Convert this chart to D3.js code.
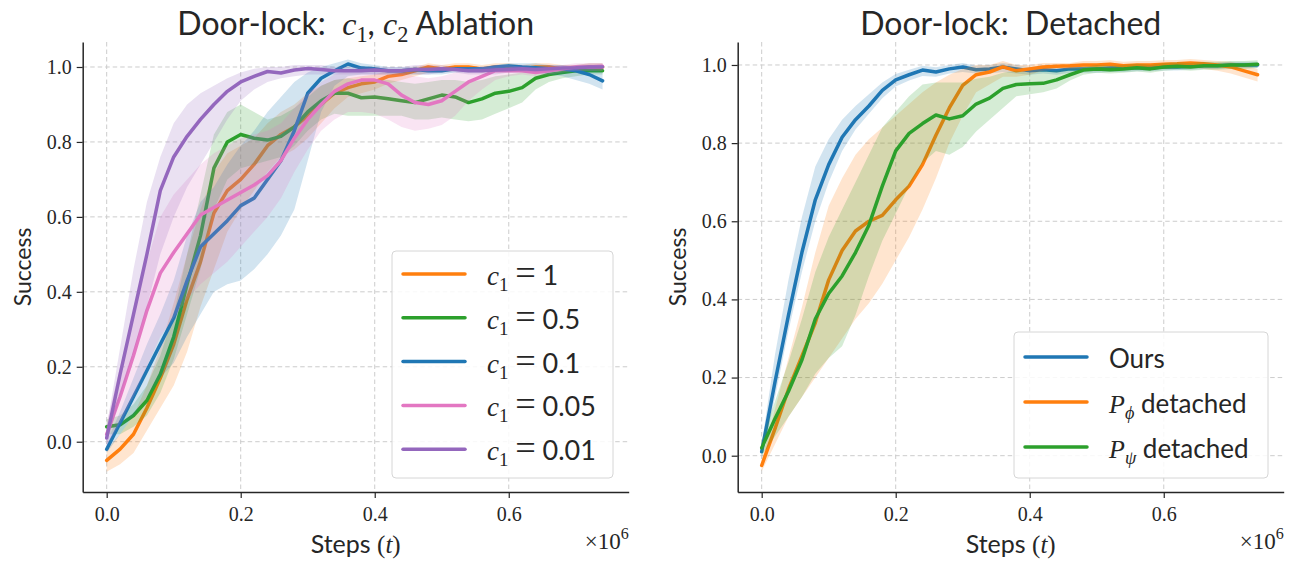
<!DOCTYPE html>
<html><head><meta charset="utf-8">
<script src="https://cdn.jsdelivr.net/npm/d3@7"></script>
<style>body{margin:0;background:#fff}svg{display:block}text{white-space:pre}</style>
</head><body><svg id="chart" width="1292" height="563"></svg>
<script>
// ---------- data ----------
const steps = [0,0.02,0.04,0.06,0.08,0.10,0.12,0.14,0.16,0.18,0.20,0.22,0.24,0.26,0.28,0.30,0.32,0.34,0.36,0.38,0.40,0.42,0.44,0.46,0.48,0.50,0.52,0.54,0.56,0.58,0.60,0.62,0.64,0.66,0.68,0.70,0.72,0.74];
const xTicks = [0.0,0.2,0.4,0.6];
const yTicksLeft = [0.0,0.2,0.4,0.6,0.8,1.0];
const yTicksRight = [0.0,0.2,0.4,0.6,0.8,1.0];

// Left panel: c1 ablation
const c1_1_mean = [-0.05,-0.02,0.02,0.09,0.17,0.26,0.38,0.48,0.61,0.67,0.70,0.74,0.79,0.82,0.84,0.87,0.90,0.93,0.945,0.955,0.96,0.975,0.98,0.99,1.0,0.995,1.0,1.0,0.995,1.0,1.0,0.995,1.0,1.0,0.995,0.995,1.0,1.0];
const c1_1_lo = [-0.08,-0.06,-0.03,0.03,0.09,0.15,0.24,0.36,0.46,0.56,0.62,0.67,0.72,0.76,0.78,0.81,0.85,0.89,0.92,0.93,0.94,0.955,0.965,0.975,0.985,0.985,0.99,0.99,0.985,0.99,0.99,0.985,0.99,0.99,0.985,0.985,0.99,0.99];
const c1_1_hi = [-0.02,0.02,0.07,0.15,0.25,0.37,0.50,0.62,0.72,0.77,0.79,0.81,0.85,0.88,0.90,0.93,0.95,0.965,0.97,0.975,0.98,0.99,0.995,1.0,1.01,1.005,1.01,1.01,1.005,1.01,1.01,1.005,1.01,1.01,1.005,1.005,1.01,1.01];

const c1_05_mean = [0.04,0.045,0.07,0.11,0.18,0.28,0.42,0.55,0.73,0.80,0.82,0.81,0.805,0.815,0.84,0.88,0.91,0.93,0.93,0.918,0.92,0.915,0.91,0.905,0.915,0.925,0.92,0.905,0.915,0.93,0.935,0.945,0.97,0.98,0.985,0.99,0.99,0.99];
const c1_05_lo = [0.02,0.02,0.04,0.07,0.13,0.22,0.34,0.46,0.62,0.70,0.73,0.74,0.75,0.76,0.79,0.83,0.86,0.875,0.87,0.87,0.87,0.87,0.87,0.86,0.86,0.865,0.86,0.855,0.86,0.875,0.89,0.905,0.94,0.96,0.97,0.975,0.98,0.98];
const c1_05_hi = [0.06,0.07,0.10,0.15,0.23,0.34,0.50,0.66,0.82,0.88,0.90,0.88,0.86,0.87,0.89,0.92,0.95,0.965,0.97,0.965,0.965,0.965,0.96,0.955,0.96,0.965,0.965,0.96,0.965,0.975,0.98,0.985,0.99,0.995,1.0,1.0,1.0,1.0];

const c1_01_mean = [-0.02,0.05,0.12,0.19,0.26,0.33,0.43,0.52,0.555,0.59,0.63,0.65,0.70,0.75,0.83,0.93,0.97,0.99,1.008,0.997,0.995,0.99,0.99,0.993,0.99,0.99,0.995,0.995,0.995,1.0,1.003,1.0,0.998,0.995,0.995,0.99,0.98,0.963];
const c1_01_lo = [-0.03,0.02,0.07,0.12,0.17,0.21,0.28,0.34,0.40,0.42,0.43,0.46,0.50,0.55,0.62,0.75,0.88,0.95,0.975,0.98,0.98,0.98,0.98,0.98,0.98,0.98,0.985,0.985,0.985,0.99,0.99,0.99,0.985,0.98,0.975,0.965,0.955,0.94];
const c1_01_hi = [0.0,0.08,0.17,0.26,0.34,0.43,0.55,0.64,0.68,0.74,0.79,0.83,0.88,0.92,0.96,0.985,1.0,1.01,1.02,1.01,1.005,1.0,1.0,1.0,1.0,1.0,1.0,1.0,1.0,1.005,1.01,1.01,1.01,1.005,1.005,1.0,1.0,0.985];

const c1_005_mean = [0.02,0.12,0.23,0.35,0.45,0.505,0.555,0.605,0.625,0.645,0.665,0.685,0.71,0.75,0.81,0.86,0.90,0.935,0.955,0.965,0.965,0.955,0.925,0.905,0.9,0.91,0.935,0.96,0.975,0.99,0.99,0.99,0.985,0.99,0.995,1.0,1.0,1.002];
const c1_005_lo = [-0.01,0.05,0.12,0.20,0.28,0.33,0.38,0.42,0.45,0.48,0.52,0.56,0.60,0.65,0.72,0.78,0.83,0.86,0.88,0.88,0.875,0.86,0.84,0.83,0.835,0.845,0.87,0.91,0.94,0.965,0.975,0.98,0.975,0.98,0.985,0.99,0.99,0.99];
const c1_005_hi = [0.05,0.20,0.34,0.48,0.60,0.66,0.70,0.74,0.77,0.79,0.81,0.82,0.83,0.85,0.89,0.93,0.96,0.98,0.99,0.995,0.995,0.99,0.985,0.975,0.97,0.975,0.985,0.995,1.0,1.005,1.005,1.0,0.995,1.0,1.005,1.01,1.01,1.01];

const c1_001_mean = [0.01,0.18,0.34,0.50,0.67,0.76,0.815,0.86,0.90,0.935,0.96,0.975,0.988,0.984,0.992,0.996,0.993,0.99,0.99,0.99,0.992,0.99,0.99,0.993,0.993,0.995,0.993,0.99,0.99,0.992,0.993,0.995,0.993,0.995,0.997,0.998,1.0,1.0];
const c1_001_lo = [-0.01,0.12,0.24,0.36,0.50,0.60,0.68,0.74,0.80,0.86,0.91,0.94,0.96,0.97,0.975,0.98,0.98,0.98,0.98,0.98,0.98,0.98,0.98,0.98,0.98,0.985,0.985,0.98,0.98,0.98,0.985,0.985,0.985,0.985,0.99,0.99,0.99,0.99];
const c1_001_hi = [0.04,0.25,0.46,0.64,0.76,0.85,0.90,0.93,0.95,0.97,0.985,0.995,1.0,1.0,1.005,1.005,1.005,1.0,1.0,1.0,1.0,1.0,1.0,1.005,1.005,1.005,1.0,1.0,1.0,1.0,1.0,1.005,1.0,1.005,1.005,1.005,1.01,1.01];

// Right panel: detached
const ours_mean = [0.01,0.19,0.36,0.52,0.655,0.745,0.815,0.86,0.895,0.935,0.962,0.975,0.987,0.982,0.99,0.995,0.988,0.99,0.995,0.99,0.985,0.988,0.985,0.99,0.99,0.99,0.992,0.992,0.993,0.993,0.995,0.995,0.997,0.998,0.998,1.0,1.0,1.0];
const ours_lo = [-0.01,0.15,0.32,0.47,0.60,0.70,0.78,0.835,0.875,0.915,0.945,0.96,0.972,0.97,0.978,0.982,0.978,0.978,0.982,0.978,0.975,0.978,0.975,0.98,0.98,0.98,0.982,0.982,0.984,0.984,0.986,0.986,0.988,0.99,0.99,0.992,0.992,0.992];
const ours_hi = [0.03,0.26,0.45,0.61,0.74,0.81,0.86,0.895,0.925,0.955,0.977,0.988,0.998,0.994,1.0,1.005,0.998,1.0,1.005,1.0,0.995,0.998,0.995,1.0,1.0,1.0,1.002,1.002,1.002,1.002,1.004,1.004,1.006,1.006,1.006,1.008,1.008,1.008];

const pphi_mean = [-0.025,0.07,0.17,0.255,0.34,0.45,0.525,0.575,0.60,0.615,0.655,0.69,0.745,0.82,0.89,0.948,0.975,0.982,0.995,0.985,0.99,0.995,0.997,0.998,1.0,1.0,1.002,0.998,1.0,1.0,1.002,1.003,1.005,1.003,1.0,0.995,0.985,0.975];
const pphi_lo = [-0.04,0.03,0.10,0.15,0.20,0.25,0.30,0.35,0.39,0.44,0.50,0.56,0.63,0.71,0.80,0.87,0.93,0.95,0.97,0.97,0.975,0.985,0.99,0.99,0.99,0.99,0.992,0.99,0.99,0.99,0.99,0.992,0.995,0.99,0.985,0.978,0.968,0.958];
const pphi_hi = [-0.01,0.12,0.25,0.38,0.52,0.64,0.71,0.77,0.81,0.84,0.87,0.90,0.93,0.955,0.975,0.99,1.0,1.0,1.01,1.0,1.0,1.005,1.005,1.005,1.01,1.01,1.012,1.008,1.01,1.01,1.012,1.013,1.015,1.013,1.01,1.008,1.0,0.99];

const ppsi_mean = [0.02,0.095,0.165,0.245,0.35,0.415,0.46,0.52,0.59,0.69,0.78,0.825,0.85,0.872,0.862,0.87,0.90,0.915,0.94,0.95,0.952,0.953,0.962,0.975,0.987,0.99,0.988,0.99,0.993,0.99,0.995,0.997,0.995,0.998,0.998,1.0,1.0,1.002];
const ppsi_lo = [0.0,0.05,0.10,0.15,0.21,0.25,0.28,0.36,0.46,0.55,0.62,0.69,0.75,0.78,0.77,0.79,0.83,0.86,0.89,0.92,0.925,0.93,0.94,0.96,0.975,0.98,0.978,0.98,0.983,0.98,0.985,0.988,0.985,0.988,0.988,0.99,0.99,0.992];
const ppsi_hi = [0.04,0.14,0.24,0.35,0.47,0.56,0.63,0.70,0.77,0.84,0.88,0.92,0.95,0.955,0.955,0.955,0.965,0.97,0.98,0.985,0.98,0.985,0.985,0.99,0.995,1.0,0.998,1.0,1.003,1.0,1.005,1.007,1.005,1.008,1.008,1.01,1.01,1.012];

// ---------- styling ----------
const SANS = "Lato, 'Open Sans', sans-serif";
const SERIF = "'Liberation Serif', 'DejaVu Serif', serif";
const INK = "#262626";
const C = {blue:"#1f77b4", orange:"#ff7f0e", green:"#2ca02c", pink:"#e377c2", purple:"#9467bd"};

const svg = d3.select("#chart");

function rich(textSel, parts, size) {
  let shift = 0;
  parts.forEach(p => {
    const fs = (p.sub || p.sup) ? size * 0.7 : (p.scale ? size * p.scale : size);
    const target = p.sub ? size * 0.22 : (p.sup ? -size * 0.42 : 0);
    const ts = textSel.append("tspan").text(p.t)
      .style("font-size", fs + "px")
      .style("font-family", p.serif ? SERIF : SANS)
      .style("font-style", p.it ? "italic" : "normal");
    if (target !== shift) { ts.attr("dy", target - shift); shift = target; }
  });
}

function drawPanel(cfg) {
  const g = svg.append("g");
  const x = d3.scaleLinear().domain([-0.0358, 0.779]).range([cfg.left, cfg.right]);
  const y = d3.scaleLinear().domain(cfg.yDomain).range([cfg.bottom, cfg.top]);

  // grid
  g.selectAll(".vg").data(xTicks).join("line")
    .attr("x1", d => x(d)).attr("x2", d => x(d)).attr("y1", cfg.top).attr("y2", cfg.bottom)
    .attr("stroke", "#cccccc").attr("stroke-width", 1).attr("stroke-dasharray", "4.5,3");
  g.selectAll(".hg").data(cfg.yTicks).join("line")
    .attr("x1", cfg.left).attr("x2", cfg.right).attr("y1", d => y(d)).attr("y2", d => y(d))
    .attr("stroke", "#cccccc").attr("stroke-width", 1).attr("stroke-dasharray", "4.5,3");

  // series
  cfg.series.forEach(s => {
    const area = d3.area().x((d, i) => x(steps[i])).y0((d, i) => y(s.lo[i])).y1((d, i) => y(s.hi[i]));
    g.append("path").datum(s.mean).attr("d", area).attr("fill", s.color).attr("fill-opacity", 0.2);
    const line = d3.line().x((d, i) => x(steps[i])).y(d => y(d));
    g.append("path").datum(s.mean).attr("d", line).attr("fill", "none")
      .attr("stroke", s.color).attr("stroke-width", 3.5)
      .attr("stroke-linejoin", "round").attr("stroke-linecap", "round");
  });

  // axes
  const xa = g.append("g").attr("transform", `translate(0,${cfg.bottom})`)
    .call(d3.axisBottom(x).tickValues(xTicks).tickFormat(d3.format(".1f")).tickSize(6).tickSizeOuter(0).tickPadding(9));
  const ya = g.append("g").attr("transform", `translate(${cfg.left},0)`)
    .call(d3.axisLeft(y).tickValues(cfg.yTicks).tickFormat(d3.format(".1f")).tickSize(6).tickSizeOuter(0).tickPadding(5));
  [xa, ya].forEach(a => {
    a.attr("font-family", null).attr("font-size", null);
    a.select(".domain").attr("stroke", INK).attr("stroke-width", 1.5);
    a.selectAll(".tick line").attr("stroke", INK).attr("stroke-width", 1.2);
    a.selectAll(".tick text").attr("fill", INK).style("font-family", SERIF).style("font-size", "20px");
  });

  const cx = (cfg.left + cfg.right) / 2;
  // title
  rich(g.append("text").attr("x", cx).attr("y", 35).attr("text-anchor", "middle").attr("fill", INK), cfg.title, 32);
  // x label
  rich(g.append("text").attr("x", cx).attr("y", 553).attr("text-anchor", "middle").attr("fill", INK),
    [{t:"Steps "}, {t:"(", serif:true}, {t:"t", serif:true, it:true}, {t:")", serif:true}], 25);
  // offset text
  rich(g.append("text").attr("x", cfg.right).attr("y", 549).attr("text-anchor", "end").attr("fill", INK),
    [{t:"×10", serif:true}, {t:"6", serif:true, sup:true}], 23);
  // y label
  g.append("text").attr("transform", `translate(${cfg.left - 60},${(cfg.top + cfg.bottom) / 2}) rotate(-90)`)
    .attr("text-anchor", "middle").attr("dy", "0.35em").attr("fill", INK)
    .style("font-family", SANS).style("font-size", "23px").text("Success");

  // legend
  const L = cfg.legend;
  const lg = g.append("g");
  lg.append("rect").attr("x", L.x).attr("y", L.y).attr("width", L.w).attr("height", L.h).attr("rx", 4)
    .attr("fill", "#ffffff").attr("fill-opacity", 0.85).attr("stroke", "#d6d6d6").attr("stroke-width", 1);
  L.items.forEach((it, i) => {
    const ly = L.firstY + i * L.gap;
    lg.append("line").attr("x1", L.x + 11).attr("x2", L.x + 73).attr("y1", ly).attr("y2", ly)
      .attr("stroke", it.color).attr("stroke-width", 3.5).attr("stroke-linecap", "round");
    rich(lg.append("text").attr("x", L.x + 95).attr("y", ly + 11).attr("fill", INK), it.label, L.size);
  });
}

const c1Label = v => [{t:"c", serif:true, it:true}, {t:"1", serif:true, sub:true}, {t:" ", serif:true},
                      {t:"=", serif:true, scale:1.35}, {t:" ", serif:true}, {t:v}];

drawPanel({
  left: 82.7, right: 628.7, top: 42, bottom: 492,
  yDomain: [-0.1342, 1.0667], yTicks: yTicksLeft,
  title: [{t:"Door-lock:  "}, {t:"c", serif:true, it:true}, {t:"1", serif:true, sub:true}, {t:", "},
          {t:"c", serif:true, it:true}, {t:"2", serif:true, sub:true}, {t:" Ablation"}],
  series: [
    {mean: c1_1_mean, lo: c1_1_lo, hi: c1_1_hi, color: C.orange},
    {mean: c1_05_mean, lo: c1_05_lo, hi: c1_05_hi, color: C.green},
    {mean: c1_01_mean, lo: c1_01_lo, hi: c1_01_hi, color: C.blue},
    {mean: c1_005_mean, lo: c1_005_lo, hi: c1_005_hi, color: C.pink},
    {mean: c1_001_mean, lo: c1_001_lo, hi: c1_001_hi, color: C.purple}
  ],
  legend: {x: 392, y: 251, w: 221, h: 227, firstY: 274, gap: 43.8, size: 27,
    items: [
      {color: C.orange, label: c1Label("1")},
      {color: C.green, label: c1Label("0.5")},
      {color: C.blue, label: c1Label("0.1")},
      {color: C.pink, label: c1Label("0.05")},
      {color: C.purple, label: c1Label("0.01")}
    ]}
});

drawPanel({
  left: 737.7, right: 1283.7, top: 42, bottom: 492,
  yDomain: [-0.0929, 1.0588], yTicks: yTicksRight,
  title: [{t:"Door-lock:  Detached"}],
  series: [
    {mean: ours_mean, lo: ours_lo, hi: ours_hi, color: C.blue},
    {mean: pphi_mean, lo: pphi_lo, hi: pphi_hi, color: C.orange},
    {mean: ppsi_mean, lo: ppsi_lo, hi: ppsi_hi, color: C.green}
  ],
  legend: {x: 1014, y: 332, w: 254, h: 146, firstY: 357, gap: 45, size: 26,
    items: [
      {color: C.blue, label: [{t:"Ours"}]},
      {color: C.orange, label: [{t:"P", serif:true, it:true}, {t:"ϕ", serif:true, it:true, sub:true}, {t:" detached"}]},
      {color: C.green, label: [{t:"P", serif:true, it:true}, {t:"ψ", serif:true, it:true, sub:true}, {t:" detached"}]}
    ]}
});
</script>
</body></html>
